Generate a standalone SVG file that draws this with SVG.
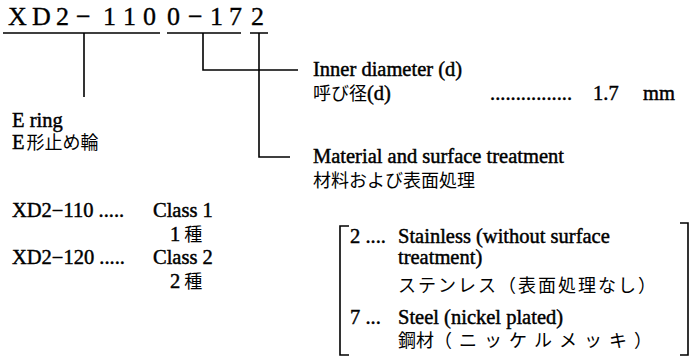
<svg xmlns="http://www.w3.org/2000/svg" width="698" height="361" viewBox="0 0 698 361">
<style>
.en{font-family:"Liberation Serif","Times New Roman",serif;font-size:20.5px;fill:#000;stroke:#000;stroke-width:0.45}
.hd{font-family:"Liberation Serif","Times New Roman",serif;font-size:26px;fill:#000;stroke:#000;stroke-width:0.35}
.jp{font-family:"Noto Sans CJK JP","Noto Sans CJK SC",sans-serif;font-size:18px;fill:#000}
.ln{stroke:#000;stroke-width:1.6;fill:none}
</style>
<rect width="698" height="361" fill="#fff"/>
<g id="code">
<text class="hd" x="8 32 56 76 103 123 143 167 188 210 229 251" y="25">XD2−1100−172</text>
</g>
<g id="connectors" class="ln">
<path d="M3 33H160M167 33H241M250 33H268"/>
<path d="M84 33V97"/>
<path d="M203 33V70H298"/>
<path d="M259 33V157H290"/>
<path d="M349 226h-9V355h9"/>
<path d="M680 223h8V355h-8"/>
</g>
<g id="inner-diameter">
<text class="en" x="313" y="76">Inner diameter (d)</text>
<text x="313" y="100"><tspan class="jp">呼び径</tspan><tspan class="en">(d)</tspan></text>
<text class="en" x="490" y="100">................</text>
<text class="en" x="593" y="100">1.7</text>
<text class="en" x="643" y="100">mm</text>
</g>
<g id="e-ring">
<text class="en" x="12" y="127">E ring</text>
<text x="12" y="149"><tspan class="en">E</tspan><tspan class="jp" dx="2">形止め輪</tspan></text>
</g>
<g id="material">
<text class="en" x="313" y="163">Material and surface treatment</text>
<text class="jp" x="313" y="187">材料および表面処理</text>
</g>
<g id="class1">
<text class="en" x="12" y="217">XD2−110 .....</text>
<text class="en" x="153" y="217">Class 1</text>
<text x="170" y="241"><tspan class="en">1</tspan><tspan class="jp" dx="4">種</tspan></text>
</g>
<g id="class2">
<text class="en" x="12" y="264">XD2−120 .....</text>
<text class="en" x="153" y="264">Class 2</text>
<text x="170" y="288"><tspan class="en">2</tspan><tspan class="jp" dx="4">種</tspan></text>
</g>
<g id="options">
<text class="en" x="350" y="243">2 ....</text>
<text class="en" x="398" y="243">Stainless (without surface</text>
<text class="en" x="398" y="264">treatment)</text>
<text class="jp" x="398" y="292" font-size="19" letter-spacing="2">ステンレス（表面処理なし）</text>
<text class="en" x="350" y="324">7 ...</text>
<text class="en" x="398" y="324">Steel (nickel plated)</text>
<text x="398" y="347"><tspan class="jp">鋼材</tspan><tspan class="jp" letter-spacing="7">（ニッケルメッキ）</tspan></text>
</g>
</svg>
